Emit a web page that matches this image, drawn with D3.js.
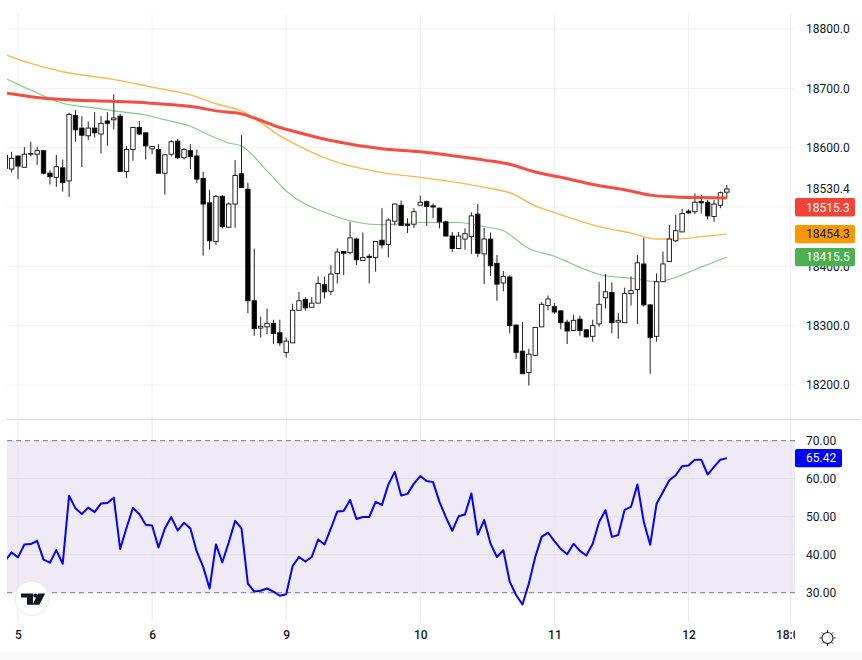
<!DOCTYPE html>
<html>
<head>
<meta charset="utf-8">
<script src="https://cdn.jsdelivr.net/npm/d3@7"></script>
<style>
  html, body { margin: 0; padding: 0; background: #fff; }
  svg { display: block; font-family: Roboto, sans-serif; }
</style>
</head>
<body>
<svg id="chart"></svg>
<script>
const svgWidth = 862
const svgHeight = 660
const plotLeft = 7
const plotRight = 795

// open, high, low, close - first candle is bar -2, bar 0 is the start of day 5
const candles = [
  [18587,18587,18559,18565],[18564,18593,18558,18582],[18586,18586,18547,18569],[18567,18601,18566,18589],
  [18589,18610,18585,18590],[18589,18601,18571,18595],[18595,18596,18555,18557],[18557,18562,18538,18551],
  [18550,18588,18534,18568],[18566,18580,18526,18541],[18544,18659,18517,18656],[18654,18663,18610,18630],
  [18633,18653,18567,18621],[18620,18644,18613,18633],[18633,18660,18617,18625],[18623,18653,18590,18641],
  [18645,18660,18603,18641],[18647,18690,18631,18650],[18653,18657,18560,18560],[18560,18603,18549,18597],
  [18597,18635,18578,18634],[18634,18645,18621,18623],[18625,18626,18580,18603],[18598,18602,18589,18602],
  [18597,18606,18556,18557],[18557,18588,18521,18588],[18589,18613,18585,18610],[18611,18615,18581,18583],
  [18583,18599,18580,18597],[18595,18606,18564,18585],[18586,18597,18540,18547],[18548,18559,18418,18505],
  [18507,18529,18428,18443],[18442,18520,18436,18518],[18518,18520,18464,18467],[18466,18508,18465,18505],
  [18505,18579,18465,18553],[18556,18621,18533,18533],[18530,18541,18321,18342],[18342,18430,18283,18295],
  [18296,18315,18280,18299],[18298,18329,18285,18304],[18304,18310,18269,18287],[18288,18310,18266,18271],
  [18255,18280,18246,18274],[18271,18337,18271,18326],[18326,18357,18326,18342],[18344,18348,18325,18330],
  [18331,18348,18331,18338],[18338,18383,18338,18371],[18369,18383,18346,18357],[18358,18402,18352,18387],
  [18388,18430,18371,18424],[18425,18426,18385,18422],[18423,18475,18420,18448],[18446,18448,18402,18411],
  [18410,18457,18410,18415],[18417,18421,18371,18415],[18415,18442,18391,18442],[18444,18498,18430,18436],
  [18437,18481,18415,18478],[18476,18506,18469,18505],[18503,18511,18469,18469],[18471,18481,18456,18469],
  [18471,18498,18465,18492],[18503,18519,18503,18508],[18509,18511,18468,18501],[18502,18506,18481,18500],
  [18498,18499,18464,18475],[18475,18477,18451,18451],[18451,18458,18424,18430],[18430,18458,18430,18451],
  [18446,18464,18428,18455],[18450,18491,18421,18485],[18488,18505,18416,18422],[18421,18465,18370,18446],
  [18446,18457,18384,18401],[18405,18419,18342,18370],[18372,18392,18358,18383],[18382,18385,18287,18300],
  [18301,18302,18244,18255],[18257,18306,18219,18219],[18221,18261,18199,18252],[18250,18297,18249,18297],
  [18298,18340,18298,18336],[18334,18351,18326,18345],[18332,18338,18320,18323],[18325,18326,18294,18305],
  [18306,18310,18269,18291],[18292,18318,18291,18309],[18311,18317,18283,18292],[18293,18294,18280,18281],
  [18282,18310,18273,18300],[18303,18374,18298,18336],[18347,18387,18329,18357],[18356,18373,18287,18305],
  [18306,18321,18278,18309],[18305,18364,18305,18354],[18354,18383,18334,18359],[18361,18419,18303,18406],
  [18404,18448,18332,18335],[18335,18336,18219,18280],[18282,18388,18273,18374],[18374,18425,18374,18404],
  [18408,18470,18408,18446],[18443,18487,18441,18460],[18458,18497,18458,18489],[18493,18496,18489,18490],
  [18492,18523,18488,18508],[18509,18521,18489,18507],[18508,18512,18479,18485],[18484,18512,18475,18505],
  [18503,18526,18498,18524],[18525,18537,18515,18530.4],
].map((d, i) => ({ bar: i - 2, open: d[0], high: d[1], low: d[2], close: d[3] }))

// moving averages as [bar, value]
const maRed = [[-2,18692],[2,18686],[7,18681],[15,18678],[22,18674],[28,18668],[31,18662],[35,18657],[37,18650],
  [41,18634],[42,18631],[49,18612],[57,18598],[63,18593],[69,18585],[73,18579],[77,18572],[81,18559],[85,18550],
  [90,18538],[95,18529],[99,18520],[103,18517],[107,18516],[111,18515.3]]
const maOrange = [[-2,18757],[2,18742],[7,18728],[15,18715],[21,18702],[27,18689],[31,18674],[35,18662],[37,18650],
  [41,18620],[42,18614],[49,18579],[57,18558],[63,18550],[69,18541],[73,18533],[77,18524],[81,18502],[85,18487],
  [91,18467],[96,18456],[100,18446],[103,18446],[107,18450],[111,18454.3]]
const maGreen = [[-2,18717],[2,18697],[7,18675],[12,18667],[15,18662],[20,18655],[23,18647],[27,18636],[30,18621],
  [33,18608],[35,18603],[39,18561],[42,18527],[49,18487],[57,18470],[63,18474],[69,18474],[73,18467],[76,18460],
  [80,18430],[84,18417],[89,18394],[92,18384],[96,18380],[100,18374],[102,18378],[107,18399],[111,18415.5]]

// rsi per bar, starts at bar -2 like the candles
const rsi = [38.4,40.6,39.3,42.7,42.8,43.6,38.7,37.9,41.2,37.6,
  55.5,52.2,50.7,52.4,51.2,53.5,53.6,55.0,41.5,47.1,
  52.3,50.7,47.9,47.7,41.9,46.9,49.9,46.4,48.4,46.9,
  40.8,36.8,31.1,42.7,38.0,43.2,48.9,46.9,32.4,30.3,
  30.5,31.1,30.3,29.2,29.6,37.0,39.4,38.2,39.4,44.0,
  42.7,46.9,51.4,51.5,54.4,49.4,49.9,49.9,53.9,53.1,
  58.5,61.8,55.6,56.0,58.7,60.7,59.4,59.1,53.9,49.9,
  46.3,50.1,50.6,56.1,45.3,49.1,42.9,39.4,41.2,32.9,
  29.4,26.9,32.4,39.4,44.7,45.8,43.6,41.5,40.1,42.9,
  41.0,39.8,42.9,48.6,51.7,44.7,45.2,51.8,52.6,58.5,
  48.6,42.6,53.4,56.5,59.6,60.9,63.3,63.5,65.0,65.0,
  61.1,63.1,65.0,65.42].map((v, i) => ({ bar: i - 2, value: v }))

const dayTicks = [
  { bar: 0, label: '5' }, { bar: 21, label: '6' }, { bar: 42, label: '9' }, { bar: 63, label: '10' },
  { bar: 84, label: '11' }, { bar: 105, label: '12' }, { bar: 121, label: '18:00' },
]

const x = d3.scaleLinear().domain([0, 105]).range([18, 688.5])
const y = d3.scaleLinear().domain([18200, 18800]).range([385, 29])
const yRsi = d3.scaleLinear().domain([30, 70]).range([592.7, 440.7])

const svg = d3.select('#chart').attr('width', svgWidth).attr('height', svgHeight)
  .attr('viewBox', [0, 0, svgWidth, svgHeight])

const defs = svg.append('defs')
defs.append('clipPath').attr('id', 'plot-clip').append('rect')
  .attr('x', plotLeft).attr('y', 0).attr('width', plotRight - plotLeft).attr('height', svgHeight)
defs.append('clipPath').attr('id', 'time-clip').append('rect')
  .attr('x', 0).attr('y', 620).attr('width', plotRight).attr('height', 32)

// bottom strip
svg.append('rect').attr('x', 0).attr('y', 652).attr('width', svgWidth).attr('height', 8).attr('fill', '#f8f8f8')

// Rsi band
svg.append('rect').attr('x', plotLeft).attr('y', yRsi(70)).attr('width', plotRight - plotLeft)
  .attr('height', yRsi(30) - yRsi(70)).attr('fill', '#f0eaf6')

// Grid
const grid = svg.append('g').attr('fill', 'none')
grid.selectAll('.price-grid').data(y.ticks(6)).join('line').attr('class', 'price-grid')
  .attr('x1', plotLeft).attr('x2', plotRight).attr('y1', (d) => y(d)).attr('y2', (d) => y(d))
  .attr('stroke', '#f0f1f4')
grid.selectAll('.rsi-grid').data([40, 50, 60]).join('line').attr('class', 'rsi-grid')
  .attr('x1', plotLeft).attr('x2', plotRight).attr('y1', (d) => yRsi(d)).attr('y2', (d) => yRsi(d))
  .attr('stroke', '#e3dde9')
grid.selectAll('.v-top').data(dayTicks).join('line').attr('class', 'v-top')
  .attr('x1', (d) => x(d.bar)).attr('x2', (d) => x(d.bar)).attr('y1', 14).attr('y2', 419)
  .attr('stroke', '#f0f1f4')
grid.selectAll('.v-bottom').data(dayTicks).join('line').attr('class', 'v-bottom')
  .attr('x1', (d) => x(d.bar)).attr('x2', (d) => x(d.bar)).attr('y1', 420).attr('y2', 622)
  .attr('stroke', '#e9e6ee')

// pane separator
svg.append('line').attr('x1', plotLeft).attr('x2', 860).attr('y1', 419.5).attr('y2', 419.5)
  .attr('stroke', '#d4d5d9')

// Rsi limits
svg.selectAll('.rsi-limit').data([30, 70]).join('line').attr('class', 'rsi-limit')
  .attr('x1', plotLeft).attr('x2', plotRight).attr('y1', (d) => yRsi(d)).attr('y2', (d) => yRsi(d))
  .attr('stroke', '#787b86').attr('stroke-dasharray', '5,4')

const plot = svg.append('g').attr('clip-path', 'url(#plot-clip)')

// Moving averages, under the candles
const maLine = d3.line().x((d) => x(d[0])).y((d) => y(d[1])).curve(d3.curveMonotoneX)
plot.append('path').attr('d', maLine(maGreen)).attr('fill', 'none').attr('stroke', '#4caf50')
  .attr('stroke-width', 1.1).attr('stroke-opacity', 0.7)
plot.append('path').attr('d', maLine(maOrange)).attr('fill', 'none').attr('stroke', '#ff9800')
  .attr('stroke-width', 1.4).attr('stroke-opacity', 0.7)

// Candles
const candle = plot.selectAll('.candle').data(candles).join('g').attr('class', 'candle')
candle.append('line')
  .attr('x1', (d) => x(d.bar)).attr('x2', (d) => x(d.bar))
  .attr('y1', (d) => y(d.high)).attr('y2', (d) => y(d.low))
  .attr('stroke', '#222').attr('stroke-width', 1)
candle.append('rect')
  .attr('x', (d) => x(d.bar) - 2.2).attr('width', 4.4)
  .attr('y', (d) => y(Math.max(d.open, d.close)))
  .attr('height', (d) => Math.abs(y(d.open) - y(d.close)))
  .attr('fill', (d) => (d.close >= d.open ? '#fff' : '#000'))
  .attr('stroke', '#111').attr('stroke-width', 0.9)

// Red average goes on top of the candles
plot.append('path').attr('d', maLine(maRed)).attr('fill', 'none').attr('stroke', '#f44336')
  .attr('stroke-width', 3).attr('stroke-opacity', 0.95)

// Rsi line
const rsiLine = d3.line().x((d) => x(d.bar)).y((d) => yRsi(d.value))
plot.append('path').datum(rsi).attr('d', rsiLine).attr('fill', 'none').attr('stroke', '#0000ff')
  .attr('stroke-width', 2).attr('stroke-linejoin', 'round')

// y axis, 18500.0 sits behind the red tag in the picture so it has no label
const priceAxis = svg.append('g').attr('transform', 'translate(800,0)')
  .call(d3.axisRight(y).tickValues(y.ticks(6).filter((d) => d !== 18500)).tickSize(0).tickFormat(d3.format('.1f')))
priceAxis.select('.domain').remove()
const rsiAxis = svg.append('g').attr('transform', 'translate(800,0)')
  .call(d3.axisRight(yRsi).tickValues([30, 40, 50, 60, 70]).tickSize(0).tickFormat(d3.format('.2f')))
rsiAxis.select('.domain').remove()
svg.selectAll('.tick text').attr('x', 6).attr('font-family', 'Roboto, sans-serif')
  .attr('font-size', 12).attr('fill', '#131722')

// x axis, the last label is cut by the price scale
const timeAxis = svg.append('g').attr('clip-path', 'url(#time-clip)')
  .append('g').attr('transform', 'translate(0,622)')
  .call(d3.axisBottom(x).tickValues(dayTicks.map((d) => d.bar)).tickSize(0)
    .tickFormat((b) => dayTicks.find((d) => d.bar === b).label))
timeAxis.select('.domain').remove()
timeAxis.selectAll('.tick text').attr('y', 8).attr('font-family', 'Roboto, sans-serif').attr('font-size', 12)
  .attr('font-weight', 500).attr('fill', '#131722')

// Last value tags, the red one is pushed down to clear the close label
const tags = [
  { text: '18530.4', value: 18530.4, scale: y, shift: 0, fill: 'none', color: '#131722', w: 60 },
  { text: '18515.3', value: 18515.3, scale: y, shift: 9.4, fill: '#f44336', color: '#fff', w: 60 },
  { text: '18454.3', value: 18454.3, scale: y, shift: 0, fill: '#ff9800', color: '#131722', w: 60 },
  { text: '18415.5', value: 18415.5, scale: y, shift: 0, fill: '#4caf50', color: '#fff', w: 60 },
  { text: '65.42', value: 65.42, scale: yRsi, shift: 0, fill: '#0000ff', color: '#fff', w: 47 },
]
const tag = svg.selectAll('.tag').data(tags).join('g').attr('class', 'tag')
  .attr('transform', (d) => `translate(${plotRight},${d.scale(d.value) + d.shift})`)
tag.append('rect').attr('x', 0).attr('y', -9.2).attr('width', (d) => d.w).attr('height', 18.4).attr('rx', 2)
  .attr('fill', (d) => d.fill)
tag.append('text').attr('x', 11).attr('dy', '0.35em').attr('font-size', 12).attr('fill', (d) => d.color)
  .text((d) => d.text)

// TradingView badge
const badge = svg.append('g')
badge.append('circle').attr('cx', 32).attr('cy', 598.5).attr('r', 17).attr('fill', '#fff').attr('stroke', '#eeeeee').attr('stroke-width', 1.2)
badge.append('path').attr('fill', '#131722')
  .attr('d', 'M21 593.5H33V604.7H27V597.5H21ZM38 593.5H45.2L39.4 604.7H32.6Z')
badge.append('circle').attr('cx', 35.3).attr('cy', 595.5).attr('r', 2).attr('fill', '#131722')

// Theme icon
const sun = svg.append('g').attr('transform', 'translate(827.5,638)').attr('fill', 'none').attr('stroke', '#131722')
sun.append('circle').attr('r', 5.5).attr('stroke-width', 1.1)
sun.selectAll('line').data(d3.range(8)).join('line')
  .attr('x1', (d) => 6 * Math.cos((d * Math.PI) / 4)).attr('y1', (d) => 6 * Math.sin((d * Math.PI) / 4))
  .attr('x2', (d) => 8 * Math.cos((d * Math.PI) / 4)).attr('y2', (d) => 8 * Math.sin((d * Math.PI) / 4))
</script>
</body>
</html>
